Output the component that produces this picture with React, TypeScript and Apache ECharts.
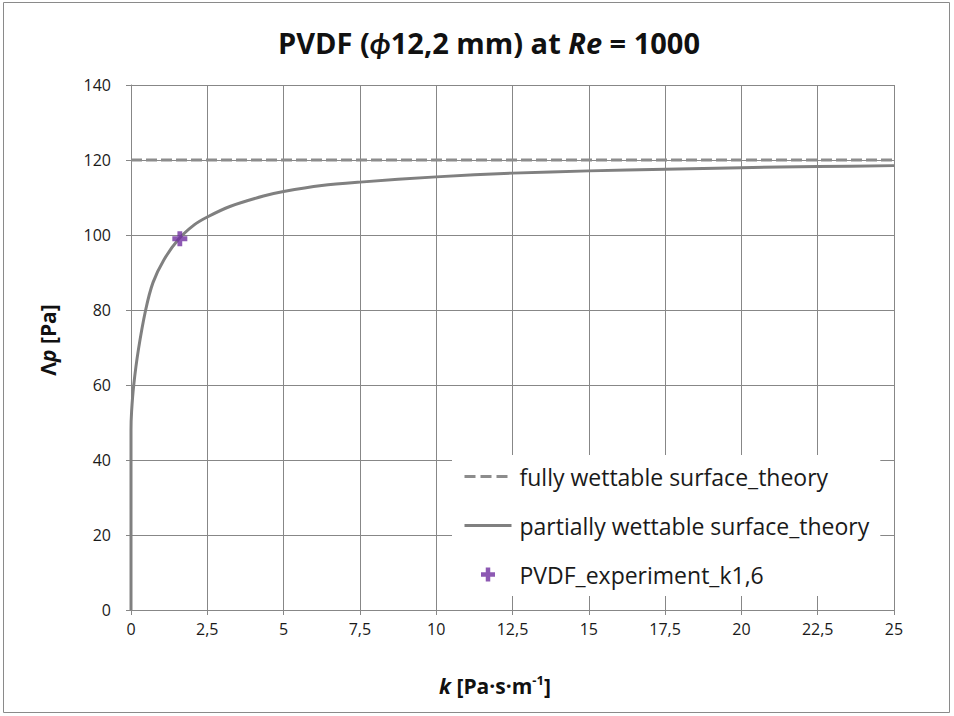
import React, { useEffect, useRef } from "react";
import * as echarts from "echarts";

// Partially wettable surface theory curve
const partialK = [0, 0, 0.02, 0.09, 0.24, 0.48, 0.72, 1.08, 1.55, 2.07, 2.5, 3.24, 4.34, 5, 6.25, 7.5, 10, 12.5, 15, 17.5, 20, 22.5, 25];
const partialDp = [0, 48, 53, 60, 69.3, 80, 87.3, 93.4, 98.8, 102.7, 104.8, 107.6, 110.4, 111.6, 113.2, 114.1, 115.5, 116.5, 117.1, 117.55, 117.95, 118.25, 118.5];

// Fully wettable surface theory (constant)
const fullyK = [0, 25];
const fullyDp = [120, 120];

// Experiment
const expK = [1.6];
const expDp = [99];

const xTicks = { min: 0, max: 25, interval: 2.5 };
const yTicks = { min: 0, max: 140, interval: 20 };

const seriesNames = [
  "fully wettable surface_theory",
  "partially wettable surface_theory",
  "PVDF_experiment_k1,6",
];

const FONT = "'Open Sans', Lato, sans-serif";
const PLUS = "path://M3.4,0H6.6V3.4H10V6.6H6.6V10H3.4V6.6H0V3.4H3.4Z";

export default function App() {
  const ref = useRef<HTMLDivElement>(null);
  useEffect(() => {
    if (!ref.current) return;
    const chart = echarts.init(ref.current, undefined, { renderer: "svg" });
    const zip = (a: number[], b: number[]) => a.map((v, i) => [v, b[i]]);
    const gridColor = "#878787";
    chart.setOption({
      animation: false,
      backgroundColor: "#ffffff",
      textStyle: { fontFamily: FONT },
      title: {
        text: "{b|PVDF (}{i|ϕ}{b|12,2 mm) at }{i|Re}{b| = 1000}",
        left: 484,
        textAlign: "center",
        top: 23,
        textStyle: {
          rich: {
            b: { fontFamily: FONT, fontSize: 29, fontWeight: "bold", color: "#111" },
            i: { fontFamily: FONT, fontSize: 29, fontWeight: "bold", fontStyle: "italic", color: "#111" },
          },
        },
      },
      grid: { left: 131, right: 60, top: 85, bottom: 106, containLabel: false },
      xAxis: {
        type: "value",
        min: xTicks.min,
        max: xTicks.max,
        interval: xTicks.interval,
        axisLine: { show: true, onZero: false, lineStyle: { color: gridColor, width: 1 } },
        axisTick: { show: true, length: 5, lineStyle: { color: gridColor } },
        splitLine: { show: true, lineStyle: { color: gridColor, width: 1 } },
        axisLabel: {
          color: "#1a1a1a",
          fontSize: 16,
          fontFamily: FONT,
          margin: 11,
          formatter: (v: number) => String(v).replace(".", ","),
        },
      },
      yAxis: {
        type: "value",
        min: yTicks.min,
        max: yTicks.max,
        interval: yTicks.interval,
        axisLine: { show: true, lineStyle: { color: gridColor, width: 1 } },
        axisTick: { show: true, length: 5, lineStyle: { color: gridColor } },
        splitLine: { show: true, lineStyle: { color: gridColor, width: 1 } },
        axisLabel: { color: "#1a1a1a", fontSize: 16, fontFamily: FONT, margin: 20 },
      },
      legend: {
        orient: "vertical",
        left: 452,
        top: 455,
        padding: [10, 11, 10, 11],
        backgroundColor: "#ffffff",
        itemWidth: 47,
        itemHeight: 14,
        itemGap: 26,
        textStyle: { fontFamily: FONT, fontSize: 23, color: "#1a1a1a", padding: [0, 0, 0, 3] },
        data: [
          { name: seriesNames[0], itemStyle: { opacity: 0 }, lineStyle: { width: 3, type: [11, 5], color: "#8c8c8c" } },
          { name: seriesNames[1], itemStyle: { opacity: 0 }, lineStyle: { width: 3, color: "#808080" } },
          { name: seriesNames[2], icon: PLUS, itemStyle: { color: "#7030A0" } },
        ],
      },
      series: [
        {
          name: seriesNames[0],
          type: "line",
          data: zip(fullyK, fullyDp),
          showSymbol: false,
          symbol: "none",
          color: "#8c8c8c",
          lineStyle: { color: "#8c8c8c", width: 3, type: [11, 4] },
          z: 3,
        },
        {
          name: seriesNames[1],
          type: "line",
          data: zip(partialK, partialDp),
          showSymbol: false,
          symbol: "none",
          smooth: 0.3,
          color: "#808080",
          lineStyle: { color: "#808080", width: 3 },
          z: 4,
        },
        {
          name: seriesNames[2],
          type: "scatter",
          data: zip(expK, expDp),
          symbol: PLUS,
          symbolSize: 15,
          itemStyle: { color: "#7030A0" },
          z: 5,
        },
      ],
      graphic: [
        {
          type: "rect",
          shape: { x: 3.5, y: 2.5, width: 946, height: 710 },
          style: { fill: "none", stroke: "#8a8a8a", lineWidth: 1 },
          silent: true,
          z: 100,
        },
        {
          type: "text",
          x: 48,
          y: 340,
          rotation: Math.PI / 2,
          style: {
            text: "{n|Λ}{i|p}{n| [Pa]}",
            align: "center",
            verticalAlign: "middle",
            rich: {
              n: { fontFamily: FONT, fontSize: 21, fontWeight: "bold", fill: "#111" },
              i: { fontFamily: FONT, fontSize: 21, fontWeight: "bold", fontStyle: "italic", fill: "#111" },
            },
          },
        },
        {
          type: "text",
          x: 495,
          y: 686,
          style: {
            text: "{i|k}{n| [Pa·s·m}{s|-1}{n|]}",
            align: "center",
            verticalAlign: "middle",
            rich: {
              n: { fontFamily: FONT, fontSize: 21, fontWeight: "bold", fill: "#111", lineHeight: 26 },
              i: { fontFamily: FONT, fontSize: 21, fontWeight: "bold", fontStyle: "italic", fill: "#111", lineHeight: 26 },
              s: { fontFamily: FONT, fontSize: 13, fontWeight: "bold", fill: "#111", verticalAlign: "top", lineHeight: 26, padding: [0, 0, 8, 0] },
            },
          },
        },
      ],
    });
    return () => chart.dispose();
  }, []);
  return (
    <div
      ref={ref}
      style={{ position: "fixed", left: 0, top: 0, width: 954, height: 716, background: "#fff" }}
    />
  );
}
